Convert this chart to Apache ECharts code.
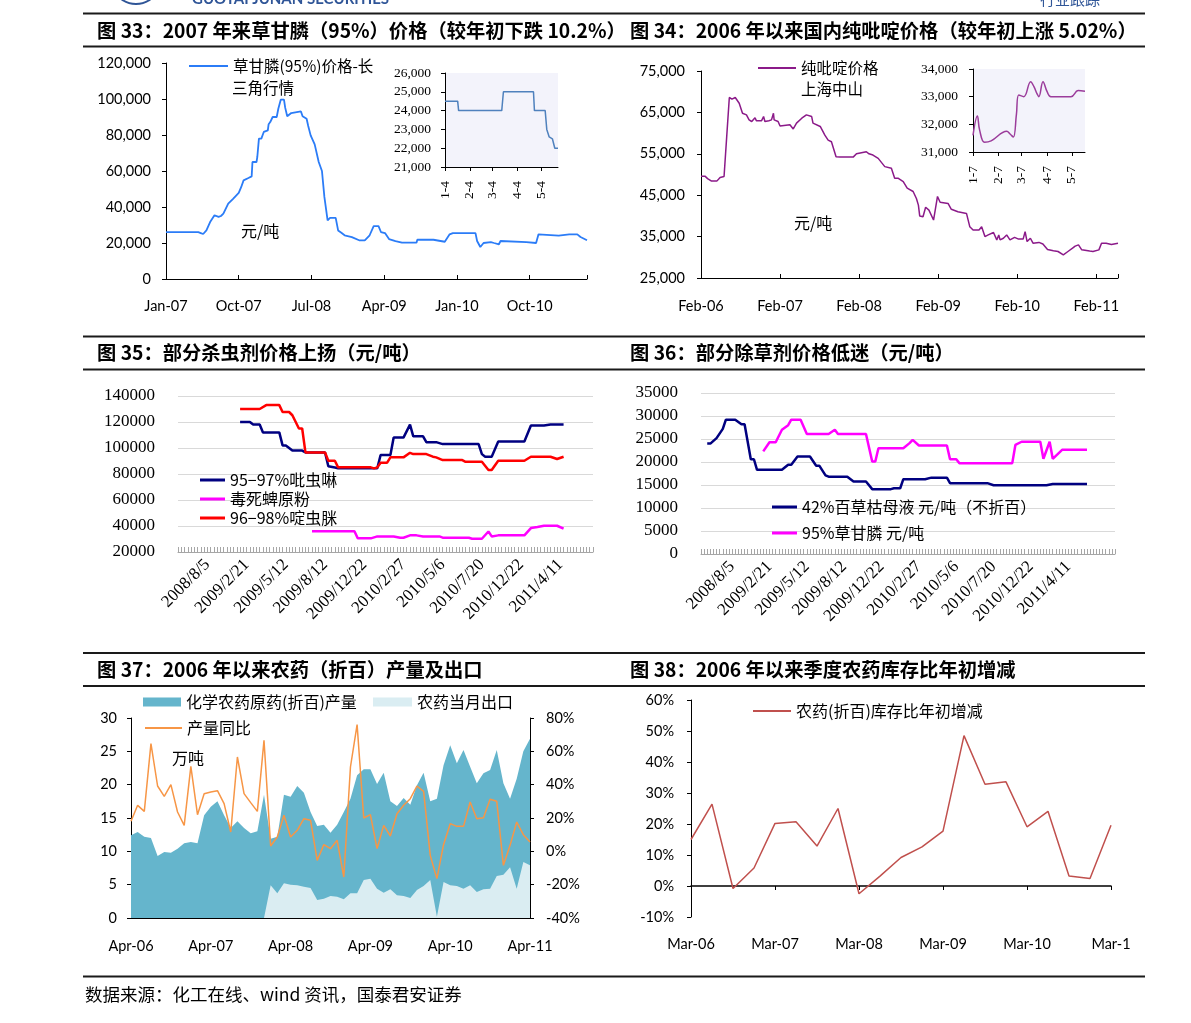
<!DOCTYPE html>
<html>
<head>
<meta charset="utf-8">
<title>农药价格图表</title>
<script src="https://cdn.jsdelivr.net/npm/echarts@6/dist/echarts.min.js"></script>
<style>
  html, body { margin: 0; padding: 0; background: #fff; }
  #main { width: 1191px; height: 1023px; }
</style>
</head>
<body>
<div id="main"></div>
<script>
// ---------- data ----------

// fig 33: glyphosate 95%, [months since Jan-2007, yuan/t]
var glyTicks = ['Jan-07', 'Oct-07', 'Jul-08', 'Apr-09', 'Jan-10', 'Oct-10'];
var glyPrice = [
  [0, 26000], [4.0, 26000], [4.3, 25500], [4.6, 25000], [5.0, 27000], [5.5, 32000], [6.0, 35400],
  [6.5, 34500], [6.8, 35000], [7.1, 36300], [7.7, 41900], [8.3, 44500], [9.0, 47800], [9.3, 51000],
  [9.6, 54800], [10.2, 56100], [10.6, 57000], [10.7, 65000], [11.2, 65000], [11.3, 67800], [11.5, 78000],
  [11.8, 78000], [12.1, 81700], [12.6, 82600], [12.7, 86000], [12.9, 87200], [13.2, 90000], [13.7, 90000],
  [13.9, 94600], [14.2, 99600], [14.6, 99600], [14.75, 95200], [15.0, 90400], [15.5, 92200], [16.7, 93100],
  [16.9, 90400], [17.4, 89000], [17.6, 85000], [17.9, 79800], [18.4, 74800], [18.9, 65000], [19.3, 60000],
  [19.6, 45600], [20.0, 32600], [20.3, 34000], [21.0, 34000], [21.3, 27000], [21.7, 25700], [22.1, 24300],
  [23.0, 23300], [23.9, 21500], [24.6, 21500], [25.2, 24300], [25.7, 29400], [26.3, 29400], [26.6, 26100],
  [27.1, 25500], [27.6, 22200], [28.4, 21100], [29.2, 20200], [31.0, 20200], [31.1, 21800], [33.1, 21800],
  [33.3, 20700], [34.5, 20700], [35.1, 24800], [35.5, 25500], [38.3, 25500], [38.5, 21100], [38.9, 17800],
  [39.3, 20000], [40.2, 20500], [40.6, 20000], [41.2, 19300], [41.4, 21100], [44.6, 20500], [44.8, 20000],
  [45.8, 20000], [46.1, 24800], [48.6, 24100], [49.9, 24800], [50.9, 24800], [51.3, 23300], [52.1, 21500]
];
// fig 33 inset: 2011, [days since Jan 4, yuan/t]
var insetDays33 = [0, 31, 59, 90, 120];
var insetTicks33 = ['1-4', '2-4', '3-4', '4-4', '5-4'];
var glyPrice2011 = [
  [0, 24500], [15.8, 24500], [17, 24000], [70.8, 24000], [72.9, 25000], [110.4, 25000], [111.6, 24000],
  [125, 24000], [127, 23000], [130, 22600], [134, 22500], [137, 22000], [141, 22000]
];

// fig 34: pyridine, [months since Feb-2006, yuan/t]
var pyrTicks = ['Feb-06', 'Feb-07', 'Feb-08', 'Feb-09', 'Feb-10', 'Feb-11'];
var pyrPrice = [
  [0, 49600], [0.6, 49600], [1.0, 49000], [1.6, 48400], [2.4, 48400], [2.9, 49300], [3.5, 49500],
  [3.9, 59100], [4.3, 68600], [4.7, 68200], [5.2, 68600], [5.4, 68400], [5.8, 67200], [6.3, 64800],
  [6.9, 64400], [7.3, 63200], [7.7, 62800], [8.2, 63700], [8.4, 63000], [8.7, 63400], [9.2, 63000],
  [9.5, 64000], [9.7, 62800], [10.3, 63000], [10.7, 63200], [11.0, 64800], [11.1, 63200], [11.7, 62800],
  [12.0, 61700], [13.5, 62000], [14.0, 61000], [14.5, 62400], [15.3, 63600], [16.0, 64400], [16.8, 64000],
  [17.0, 62400], [18.1, 61600], [18.8, 59500], [19.3, 58300], [19.8, 57900], [20.5, 54300], [21.1, 54200],
  [23.1, 54200], [23.6, 55000], [25.1, 55500], [25.5, 55000], [26.1, 54700], [26.9, 53900], [27.9, 51900],
  [28.9, 51500], [29.4, 49100], [29.9, 49100], [30.7, 48300], [31.3, 46700], [32.2, 45900], [32.7, 44200],
  [33.0, 42600], [33.2, 40000], [33.7, 39800], [34.1, 42100], [34.6, 41400], [35.3, 39000], [35.5, 38900],
  [35.9, 44700], [36.3, 43300], [37.5, 43000], [38.0, 41600], [39.0, 41000], [40.3, 40600], [40.8, 37400],
  [41.3, 36600], [42.2, 36600], [42.6, 37400], [43.1, 35000], [43.6, 35400], [44.4, 36000], [44.9, 34200],
  [45.2, 35400], [45.4, 34200], [45.9, 34600], [46.4, 35400], [46.9, 34200], [47.6, 34800], [48.2, 34400],
  [48.9, 34400], [49.2, 36200], [49.5, 33800], [50.0, 34600], [50.4, 33400], [51.3, 33600], [51.9, 33200],
  [52.6, 31900], [53.5, 31600], [54.2, 31400], [55.0, 30600], [55.7, 31400], [56.4, 32200], [56.8, 32700],
  [57.3, 33000], [57.8, 31800], [59.0, 31500], [59.5, 31400], [60.4, 31800], [60.8, 33400], [61.5, 33400],
  [62.3, 33100], [63.3, 33400]
];
// fig 34 inset: 2011, [days since Jan 7, yuan/t]
var insetDays34 = [0, 31, 59, 90, 120];
var insetTicks34 = ['1-7', '2-7', '3-7', '4-7', '5-7'];
var pyrPrice2011 = [
  [0, 31600], [5.3, 32300], [8, 31800], [14, 31350], [22, 31400], [41, 31750], [45, 31650], [49, 31540],
  [52.7, 32350], [55.6, 33060], [61.7, 33000], [70, 33540], [74, 33360], [78, 33090], [80, 33000],
  [85, 33540], [90, 33180], [94.6, 33000], [119, 33000], [127.6, 33220], [136, 33200]
];

// fig 35 / 36: weekly category axis, date labels every 12 weeks
var weekTicks = ['2008/8/5', '2009/2/21', '2009/5/12', '2009/8/12', '2009/12/22',
  '2010/2/27', '2010/5/6', '2010/7/20', '2010/12/22', '2011/4/11'];

// fig 35: [week index, yuan/t]
var imidacloprid = [
  [19, 120000], [22, 120000], [23, 118000], [25, 118000], [26, 112000], [31, 112000], [32, 102000],
  [33, 102000], [35, 98000], [38, 98000], [39, 96600], [45, 96600], [46, 86000], [48, 85000], [49, 84500],
  [61, 84500], [62, 94600], [65, 94600], [66, 108000], [69, 108000], [71, 118000], [72, 109000],
  [75, 109000], [76, 104500], [79, 104500], [81, 103000], [92, 103000], [93, 95300], [94, 93300],
  [96, 93300], [98, 105000], [106, 105000], [108, 117300], [112, 117300], [114, 118000], [118, 118000]
];
var chlorpyrifos = [
  [41, 36000], [54, 36000], [55, 30500], [59, 30500], [61, 32000], [66, 32000], [68, 31000], [69, 31000],
  [71, 32800], [73, 32800], [75, 32000], [80, 32000], [81, 31000], [89, 31000], [90, 30200], [93, 30200],
  [95, 35800], [96, 32000], [98, 32800], [106, 32800], [108, 38400], [110, 39200], [112, 40200],
  [116, 40200], [118, 37900]
];
var acetamiprid = [
  [19, 130000], [25, 130000], [27, 133000], [31, 133000], [32, 127700], [34, 127700], [35, 125200],
  [37, 115000], [38, 115000], [39, 96600], [45, 96600], [46, 90200], [48, 90200], [49, 85100], [59, 85100],
  [60, 84300], [61, 85100], [62, 88700], [64, 88700], [65, 92800], [69, 92800], [71, 96300], [72, 95300],
  [76, 95300], [78, 93300], [79, 92800], [81, 90700], [87, 90700], [88, 89400], [93, 89400], [95, 83100],
  [96, 83100], [98, 90200], [106, 90200], [108, 93300], [114, 93300], [116, 91500], [118, 93300]
];

// fig 36: [week index, yuan/t]
var paraquat = [
  [2, 24000], [3, 24000], [5, 25200], [7, 27200], [8, 29200], [11, 29200], [13, 28200], [14, 28200],
  [16, 20600], [17, 20600], [18, 18300], [26, 18300], [28, 19400], [29, 19400], [31, 21200], [35, 21200],
  [37, 19200], [38, 19200], [40, 17100], [41, 16800], [47, 16800], [49, 15750], [53, 15750], [55, 14100],
  [61, 14100], [62, 14300], [64, 14300], [65, 16260], [72, 16260], [74, 16600], [79, 16600], [80, 15400],
  [92, 15400], [94, 14950], [111, 14950], [113, 15200], [124, 15200]
];
var glyphosate = [
  [20, 22300], [22, 24300], [24, 24300], [26, 27000], [28, 28000], [29, 29200], [32, 29200], [34, 26100],
  [41, 26100], [43, 27000], [44, 26100], [53, 26100], [55, 20100], [56, 20100], [57, 23000], [65, 23000],
  [67, 24100], [68, 24800], [70, 23600], [79, 23600], [80, 20600], [82, 20600], [83, 19750], [100, 19750],
  [101, 23700], [103, 24400], [109, 24400], [110, 20700], [112, 24400], [113, 20700], [116, 22650],
  [124, 22650]
];

// fig 37: monthly, Apr-06 .. Apr-11
var aprTicks = ['Apr-06', 'Apr-07', 'Apr-08', 'Apr-09', 'Apr-10', 'Apr-11'];
var output = [12.4, 12.9, 12.2, 12.0, 9.3, 9.9, 9.8, 10.4, 11.2, 11.4, 11.2, 15.4, 16.7, 17.5, 15.4, 13.5,
  14.5, 13.5, 12.7, 13.0, 18.5, 11.9, 12.2, 18.5, 18.2, 19.8, 18.8, 15.9, 13.8, 14.0, 12.8, 14.0, 15.9, 17.9,
  21.4, 22.3, 22.3, 20.1, 21.8, 17.5, 16.8, 18.0, 17.0, 19.9, 21.8, 17.5, 17.9, 22.9, 25.9, 23.2, 25.2, 22.7,
  20.2, 21.7, 22.2, 25.2, 20.2, 17.9, 20.9, 25.0, 26.9];
var exportMonthly = [null, null, null, null, null, null, null, null, null, null, null, null, null, null,
  null, null, null, null, null, null, 0, 4.9, 3.7, 5.2, 5.0, 4.9, 4.7, 4.5, 2.7, 2.9, 3.3, 3.2, 2.8, 3.7, 3.7,
  5.7, 5.9, 4.4, 3.8, 4.3, 3.4, 3.3, 3.0, 4.2, 4.8, 5.7, 0.2, 5.4, 4.9, 4.8, 4.4, 4.9, 3.9, 4.3, 4.4, 6.3,
  6.5, 7.6, 4.4, 8.4, 7.9];
var outputYoY = [18, 27.6, 24, 64.6, 39.2, 33, 40, 23.6, 15.6, 51, 22, 34.6, 35.6, 36.4, 28.6, 11.6, 56.6,
  34.6, 29.2, 24, 66.6, 3.2, 8.6, 21.6, 8.6, 12.6, 19.6, 18.6, -5.4, 4, 1.6, 6.6, -15.4, 50.6, 76, 20, 22, 1.6,
  15.6, 9.2, 22.6, 27.6, 31.6, 39.2, 36, -2.4, -16.4, 4, 16.6, 15, 15, 29.6, 19.6, 20.2, 31.2, 30, -8.4, 3.6,
  17.6, 10, 5.6];

// fig 38: quarterly, Mar-06 .. Mar-11
var marTicks = ['Mar-06', 'Mar-07', 'Mar-08', 'Mar-09', 'Mar-10', 'Mar-1'];
var stockChange = [15.0, 26.4, -0.8, 5.8, 20.2, 20.7, 12.9, 25.0, -2.5, 3.2, 9.2, 12.6, 17.7, 48.5, 32.8,
  33.6, 19.1, 24.1, 3.2, 2.4, 19.6];

// ---------- helpers ----------
var SANS = 'Lato, "Noto Sans", sans-serif';
var SERIF = '"Liberation Serif", "DejaVu Serif", serif';
var CJK = '"Noto Sans CJK SC", sans-serif';

function weekCats(count, first) {
  var cats = [];
  for (var i = 0; i < count; i++) {
    var k = (i - first) / 12;
    cats.push(k >= 0 && k % 1 === 0 && k < weekTicks.length ? weekTicks[k] : 'w' + i);
  }
  return cats;
}
var cats35 = weekCats(128, 9);
var cats36 = weekCats(134, 10);

var monNames = ['Jan', 'Feb', 'Mar', 'Apr', 'May', 'Jun', 'Jul', 'Aug', 'Sep', 'Oct', 'Nov', 'Dec'];
function monthCats(count, startMonth, stepMonths) {
  var cats = [];
  for (var i = 0; i < count; i++) {
    var m = startMonth + i * stepMonths;
    cats.push(monNames[m % 12] + '-' + String(6 + Math.floor(m / 12)).padStart(2, '0'));
  }
  return cats;
}
var months37 = monthCats(output.length, 3, 1);
var quarters38 = monthCats(stockChange.length, 2, 3);

function thousands(v) { return v.toLocaleString('en-US'); }
function plain(v) { return String(v); }
function pct(v) { return v + '%'; }

var black = { color: '#000', width: 1 };

function valueY(grid, min, max, step, margin, font, size, fmt) {
  return {
    gridIndex: grid, type: 'value', min: min, max: max, interval: step,
    splitLine: { show: false },
    axisLine: { show: true, lineStyle: black },
    axisTick: { show: true, length: 4, lineStyle: black },
    axisLabel: { margin: margin, color: '#000', fontFamily: font, fontSize: size, formatter: fmt || plain }
  };
}

function legendAt(left, centerY, name, opts) {
  var size = opts.fontSize || 16;
  return {
    left: left, top: centerY - size / 2, padding: 0, orient: 'horizontal', selectedMode: false,
    itemWidth: opts.w, itemHeight: opts.h, icon: 'rect',
    data: [name], formatter: opts.formatter,
    textStyle: { fontFamily: CJK, fontSize: size, lineHeight: size, color: '#000' }
  };
}

function text(x, y, str, font, fill) {
  return { type: 'text', x: x, y: y, silent: true,
    style: { text: str, font: font, fill: fill || '#000', verticalAlign: 'middle' } };
}
function rule(y) {
  return { type: 'rect', silent: true, shape: { x: 83, y: y - 1, width: 1062, height: 2 }, style: { fill: '#1a1a1a' } };
}

var TITLE = 'bold 19.3px "Noto Sans CJK SC"';
var NOTE = '16px "Noto Sans CJK SC"';

var chart = echarts.init(document.getElementById('main'));

var option = {
  animation: false,
  backgroundColor: '#fff',
  textStyle: { fontFamily: CJK },
  grid: [
    { left: 166, top: 63, width: 421, height: 216 },
    { left: 445, top: 73, width: 113, height: 94, show: true, backgroundColor: '#f3f3fb', borderWidth: 0 },
    { left: 701, top: 71, width: 417, height: 207 },
    { left: 973, top: 69, width: 112, height: 83, show: true, backgroundColor: '#f3f3fb', borderWidth: 0 },
    { left: 178, top: 396, width: 415, height: 156 },
    { left: 701, top: 393, width: 414, height: 161 },
    { left: 131, top: 718, width: 399, height: 200 },
    { left: 691, top: 700, width: 420, height: 217 }
  ].map(function (g) { g.outerBoundsMode = 'none'; g.containLabel = false; return g; }),
  xAxis: [
    { gridIndex: 0, type: 'value', min: 0, max: 52.1, interval: 9, splitLine: { show: false },
      axisLine: { onZero: false, lineStyle: black }, axisTick: { show: true, inside: true, length: 4, lineStyle: black },
      axisLabel: { margin: 20, color: '#000', fontFamily: SANS, fontSize: 14.5,
        formatter: function (v) { return v % 9 === 0 ? (glyTicks[v / 9] || '') : ''; } } },
    { gridIndex: 1, type: 'value', min: 0, max: 141, splitLine: { show: false },
      axisLine: { onZero: false, lineStyle: black },
      axisTick: { show: true, length: 4, customValues: insetDays33, lineStyle: black },
      axisLabel: { customValues: insetDays33, rotate: 90, margin: 14, color: '#000', fontFamily: SERIF, fontSize: 13.5,
        formatter: function (v) { return insetTicks33[insetDays33.indexOf(v)] || ''; } } },
    { gridIndex: 2, type: 'value', min: 0, max: 63.3, interval: 12, splitLine: { show: false },
      axisLine: { onZero: false, lineStyle: black }, axisTick: { show: true, inside: true, length: 4, lineStyle: black },
      axisLabel: { margin: 21, color: '#000', fontFamily: SANS, fontSize: 14.5,
        formatter: function (v) { return v % 12 === 0 ? (pyrTicks[v / 12] || '') : ''; } } },
    { gridIndex: 3, type: 'value', min: 0, max: 136, splitLine: { show: false },
      axisLine: { onZero: false, lineStyle: black },
      axisTick: { show: true, length: 4, customValues: insetDays34, lineStyle: black },
      axisLabel: { customValues: insetDays34, rotate: 90, margin: 14, color: '#000', fontFamily: SERIF, fontSize: 13.5,
        formatter: function (v) { return insetTicks34[insetDays34.indexOf(v)] || ''; } } },
    { gridIndex: 4, type: 'category', data: cats35, boundaryGap: false,
      axisLine: { onZero: false, lineStyle: { color: '#a6a6a6' } },
      axisTick: { show: true, inside: true, interval: 0, length: 5, lineStyle: { color: '#a6a6a6' } },
      axisLabel: { interval: function (i, v) { return weekTicks.indexOf(v) >= 0; }, hideOverlap: false,
        rotate: 45, margin: 10, color: '#000', fontFamily: SERIF, fontSize: 17 } },
    { gridIndex: 5, type: 'category', data: cats36, boundaryGap: false,
      axisLine: { onZero: false, lineStyle: { color: '#a6a6a6' } },
      axisTick: { show: true, inside: true, interval: 0, length: 5, lineStyle: { color: '#a6a6a6' } },
      axisLabel: { interval: function (i, v) { return weekTicks.indexOf(v) >= 0; }, hideOverlap: false,
        rotate: 45, margin: 10, color: '#000', fontFamily: SERIF, fontSize: 17 } },
    { gridIndex: 6, type: 'category', data: months37, boundaryGap: false,
      axisLine: { onZero: false, lineStyle: black },
      axisTick: { show: true, inside: true, interval: 11, length: 4, lineStyle: black },
      axisLabel: { interval: 11, margin: 21, color: '#000', fontFamily: SANS, fontSize: 14.5,
        formatter: function (v, i) { return aprTicks[i / 12] || ''; } } },
    { gridIndex: 7, type: 'category', data: quarters38, boundaryGap: false, position: 'bottom',
      axisLine: { show: false, onZero: false }, axisTick: { show: false },
      axisLabel: { interval: 3, margin: 20, color: '#000', fontFamily: SANS, fontSize: 14.5,
        formatter: function (v, i) { return marTicks[i / 4] || ''; } } },
    { gridIndex: 7, type: 'category', data: quarters38, boundaryGap: false, position: 'bottom',
      axisLine: { show: true, onZero: true, lineStyle: { color: '#000', width: 1.5 } },
      axisTick: { show: true, interval: 3, length: 4, lineStyle: black },
      axisLabel: { show: false } }
  ],
  yAxis: [
    valueY(0, 0, 120000, 20000, 15, SANS, 14.5, thousands),
    valueY(1, 21000, 26000, 1000, 14, SERIF, 13.5, thousands),
    valueY(2, 25000, 75000, 10000, 16, SANS, 14.5, thousands),
    valueY(3, 31000, 34000, 1000, 15, SERIF, 13.5, thousands),
    { gridIndex: 4, type: 'value', min: 20000, max: 140000, interval: 20000,
      axisLine: { show: false }, axisTick: { show: false },
      splitLine: { show: true, lineStyle: { color: '#d9d9d9' } },
      axisLabel: { margin: 23, color: '#000', fontFamily: SERIF, fontSize: 17, formatter: plain } },
    { gridIndex: 5, type: 'value', min: 0, max: 35000, interval: 5000,
      axisLine: { show: false }, axisTick: { show: false },
      splitLine: { show: true, lineStyle: { color: '#d9d9d9' } },
      axisLabel: { margin: 23, color: '#000', fontFamily: SERIF, fontSize: 17, formatter: plain } },
    valueY(6, 0, 30, 5, 14, SANS, 14.5),
    Object.assign(valueY(6, -40, 80, 20, 16, SANS, 14.5, pct), { position: 'right' }),
    valueY(7, -10, 60, 10, 17, SANS, 14.5, pct)
  ],
  legend: [
    legendAt(189, 66, '草甘膦(95%)价格-长三角行情', { w: 39, h: 2, fontSize: 15.5,
      formatter: function () { return '草甘膦(95%)价格-长'; } }),
    legendAt(758, 68, '纯吡啶价格-上海中山', { w: 38, h: 2, fontSize: 15.5,
      formatter: function () { return '纯吡啶价格'; } }),
    legendAt(200, 480, '95−97%吡虫啉', { w: 25, h: 3 }),
    legendAt(200, 499, '毒死蜱原粉', { w: 25, h: 3 }),
    legendAt(200, 518, '96−98%啶虫脒', { w: 25, h: 3 }),
    legendAt(772, 507, '42%百草枯母液 元/吨（不折百）', { w: 25, h: 3 }),
    legendAt(772, 533, '95%草甘膦 元/吨', { w: 25, h: 3 }),
    legendAt(143, 702, '化学农药原药(折百)产量', { w: 38, h: 9 }),
    legendAt(373, 702, '农药当月出口', { w: 39, h: 9 }),
    legendAt(145, 728, '产量同比', { w: 37, h: 2 }),
    legendAt(753, 711, '农药(折百)库存比年初增减', { w: 38, h: 2 })
  ],
  series: [
    { name: '草甘膦(95%)价格-长三角行情', type: 'line', xAxisIndex: 0, yAxisIndex: 0, data: glyPrice,
      symbol: 'none', color: '#2b7cf7', lineStyle: { width: 1.8 } },
    { name: '草甘膦2011', type: 'line', xAxisIndex: 1, yAxisIndex: 1, data: glyPrice2011,
      symbol: 'none', color: '#4f81bd', lineStyle: { width: 1.5 } },
    { name: '纯吡啶价格-上海中山', type: 'line', xAxisIndex: 2, yAxisIndex: 2, data: pyrPrice,
      symbol: 'none', color: '#8b1a89', lineStyle: { width: 1.5 } },
    { name: '纯吡啶2011', type: 'line', xAxisIndex: 3, yAxisIndex: 3, data: pyrPrice2011, smooth: 0.4,
      symbol: 'none', color: '#9b3c9b', lineStyle: { width: 1.5 } },
    { name: '95−97%吡虫啉', type: 'line', xAxisIndex: 4, yAxisIndex: 4, data: imidacloprid,
      symbol: 'none', color: '#000080', lineStyle: { width: 2.5 } },
    { name: '毒死蜱原粉', type: 'line', xAxisIndex: 4, yAxisIndex: 4, data: chlorpyrifos,
      symbol: 'none', color: '#ff00ff', lineStyle: { width: 2.5 } },
    { name: '96−98%啶虫脒', type: 'line', xAxisIndex: 4, yAxisIndex: 4, data: acetamiprid,
      symbol: 'none', color: '#ff0000', lineStyle: { width: 2.5 } },
    { name: '42%百草枯母液 元/吨（不折百）', type: 'line', xAxisIndex: 5, yAxisIndex: 5, data: paraquat,
      symbol: 'none', color: '#000080', lineStyle: { width: 2.5 } },
    { name: '95%草甘膦 元/吨', type: 'line', xAxisIndex: 5, yAxisIndex: 5, data: glyphosate,
      symbol: 'none', color: '#ff00ff', lineStyle: { width: 2.5 } },
    { name: '化学农药原药(折百)产量', type: 'line', xAxisIndex: 6, yAxisIndex: 6, data: output,
      symbol: 'none', color: '#65b5cc', lineStyle: { width: 0 }, areaStyle: { color: '#65b5cc', opacity: 1 } },
    { name: '农药当月出口', type: 'line', xAxisIndex: 6, yAxisIndex: 6, data: exportMonthly,
      symbol: 'none', color: '#daedf2', lineStyle: { width: 0 }, areaStyle: { color: '#daedf2', opacity: 1 } },
    { name: '产量同比', type: 'line', xAxisIndex: 6, yAxisIndex: 7, data: outputYoY,
      symbol: 'none', color: '#f79646', lineStyle: { width: 1.5 } },
    { name: '农药(折百)库存比年初增减', type: 'line', xAxisIndex: 8, yAxisIndex: 8, data: stockChange,
      symbol: 'none', color: '#c0504d', lineStyle: { width: 1.5 } }
  ],
  graphic: [
    // cut-off page header
    { type: 'ellipse', silent: true, shape: { cx: 136, cy: -8, rx: 18, ry: 12 },
      style: { fill: 'none', stroke: '#2f5597', lineWidth: 2 } },
    text(192, -1, 'GUOTAI JUNAN SECURITIES', 'bold 15px Lato', '#2f5597'),
    text(1040, -1, '行业跟踪', '15px "Noto Sans CJK SC"', '#2f5597'),
    // section rules and titles
    rule(13.5), rule(46.5), rule(336.5), rule(369.5), rule(653), rule(686), rule(976.5),
    text(97, 31, '图 33：2007 年来草甘膦（95%）价格（较年初下跌 10.2%）', TITLE),
    text(630, 31, '图 34：2006 年以来国内纯吡啶价格（较年初上涨 5.02%）', TITLE),
    text(97, 353, '图 35：部分杀虫剂价格上扬（元/吨）', TITLE),
    text(630, 353, '图 36：部分除草剂价格低迷（元/吨）', TITLE),
    text(97, 670, '图 37：2006 年以来农药（折百）产量及出口', TITLE),
    text(630, 670, '图 38：2006 年以来季度农药库存比年初增减', TITLE),
    // in-chart notes
    text(232, 88, '三角行情', '15.5px "Noto Sans CJK SC"'),
    text(801, 89, '上海中山', '15.5px "Noto Sans CJK SC"'),
    text(241, 231, '元/吨', NOTE),
    text(794, 223, '元/吨', NOTE),
    text(172, 758, '万吨', NOTE),
    // source
    text(85, 994, '数据来源：化工在线、wind 资讯，国泰君安证券', '17.5px "Noto Sans CJK SC"')
  ]
};

chart.setOption(option);
</script>
</body>
</html>
